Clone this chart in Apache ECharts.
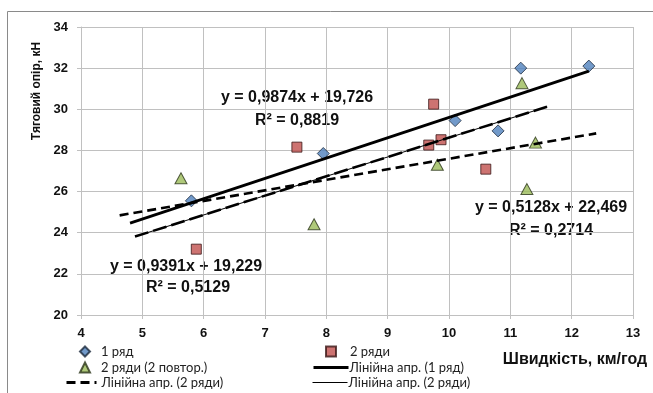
<!DOCTYPE html>
<html>
<head>
<meta charset="utf-8">
<script src="https://cdn.jsdelivr.net/npm/echarts@6/dist/echarts.min.js"></script>
<style>
  html, body { margin: 0; padding: 0; background: #fff; }
  #chart { width: 653px; height: 393px; }
</style>
</head>
<body>
<div id="chart"></div>
<script>
  // дані
  const xRow1 = [5.8, 7.95, 10.1, 10.8, 11.17, 12.28];
  const yRow1 = [25.55, 27.85, 29.45, 28.95, 32.0, 32.1];
  const xRow2 = [5.88, 7.52, 9.67, 9.75, 9.87, 10.6];
  const yRow2 = [23.2, 28.16, 28.26, 30.25, 28.52, 27.09];
  const xRep = [5.63, 7.8, 9.81, 11.19, 11.27, 11.41];
  const yRep = [26.65, 24.41, 27.3, 31.27, 26.12, 28.38];

  // лінійні апроксимації: нахил, зсув, діапазон x
  const trend1 = { k: 0.9874, b: 19.726, from: 4.8, to: 12.28 };
  const trend2 = { k: 0.9391, b: 19.229, from: 4.88, to: 11.6 };
  const trend3 = { k: 0.5128, b: 22.469, from: 4.63, to: 12.4 };

  const xTicks = [4, 5, 6, 7, 8, 9, 10, 11, 12, 13];
  const yTicks = [20, 22, 24, 26, 28, 30, 32, 34];

  const legendNames = {
    r1: '1 ряд',
    r2: '2 ряди',
    r3: '2 ряди (2 повтор.)',
    t1: 'Лінійна апр. (1 ряд)',
    t3: 'Лінійна апр. (2 ряди)',
    t2: 'Лінійна апр. (2 ряди)'
  };

  const zip = (xs, ys) => xs.map((x, i) => [x, ys[i]]);
  const line = (t) => [[t.from, t.k * t.from + t.b], [t.to, t.k * t.to + t.b]];

  const myChart = echarts.init(document.getElementById('chart'));
  const legFont = 'Lato, "Open Sans", sans-serif';
  const boldFont = '"Liberation Sans", Arial, sans-serif';
  const gridColor = '#c0c0c0';

  // одна легенда на кожен рядок, щоб точно розставити
  function legendItem(name, left, top, w, h, lineW, textPad) {
    const item = {
      left: left, top: top, padding: 0,
      itemWidth: w, itemHeight: h,
      data: [name],
      formatter: (n) => legendNames[n],
      textStyle: { fontFamily: legFont, fontSize: 13, color: '#222', padding: [0, 0, 0, textPad] }
    };
    if (lineW) {
      item.itemStyle = { opacity: 0 };
      item.lineStyle = { width: lineW };
    }
    return item;
  }

  function eqText(x, y, text) {
    return {
      type: 'text', x: x, y: y,
      style: { text: text, font: 'bold 16px ' + boldFont, fill: '#111', align: 'center', verticalAlign: 'middle' }
    };
  }

  myChart.setOption({
    animation: false,
    grid: { left: 81, right: 20, top: 27, bottom: 78 },
    legend: [
      legendItem('r1', 79, 345, 10, 10, 0, 6),
      legendItem('r3', 79, 361, 10, 10, 0, 6),
      legendItem('t3', 65, 376, 30, 11, 3, 0),
      legendItem('r2', 325, 345, 10, 10, 0, 9),
      legendItem('t1', 312, 361, 35, 11, 3, -4),
      legendItem('t2', 312, 376, 35, 11, 1, -4)
    ],
    xAxis: {
      type: 'value', min: 4, max: 13, interval: 1,
      axisLine: { lineStyle: { color: gridColor } },
      axisTick: { show: true, length: 4, lineStyle: { color: gridColor } },
      axisLabel: {
        margin: 12, color: '#111', fontWeight: 'bold', fontSize: 13, fontFamily: boldFont,
        formatter: (v) => xTicks.includes(v) ? String(v) : ''
      },
      splitLine: { show: true, lineStyle: { color: gridColor, width: 1 } }
    },
    yAxis: {
      type: 'value', min: 20, max: 34, interval: 2,
      axisLine: { show: true, lineStyle: { color: gridColor } },
      axisTick: { show: true, length: 4, lineStyle: { color: gridColor } },
      axisLabel: {
        margin: 13, color: '#111', fontWeight: 'bold', fontSize: 13, fontFamily: boldFont,
        formatter: (v) => yTicks.includes(v) ? String(v) : ''
      },
      splitLine: { show: true, lineStyle: { color: gridColor, width: 1 } }
    },
    series: [
      {
        name: 'r1', type: 'scatter', symbol: 'diamond', symbolSize: 12, z: 3,
        itemStyle: { color: '#4f81bd', borderColor: '#1d2b3d', borderWidth: 1 },
        data: zip(xRow1, yRow1)
      },
      {
        name: 'r2', type: 'scatter', symbol: 'rect', symbolSize: 10, z: 3,
        itemStyle: { color: '#c0504d', borderColor: '#3a1716', borderWidth: 1 },
        data: zip(xRow2, yRow2)
      },
      {
        name: 'r3', type: 'scatter', symbol: 'triangle', symbolSize: [12, 11], z: 3,
        itemStyle: { color: '#9bbb59', borderColor: '#2b3519', borderWidth: 1 },
        data: zip(xRep, yRep)
      },
      {
        name: 't1', type: 'line', symbol: 'none', z: 4,
        itemStyle: { color: '#000' },
        lineStyle: { color: '#000', width: 2.8 },
        data: line(trend1)
      },
      {
        name: 't2', type: 'line', symbol: 'none', z: 4,
        itemStyle: { color: '#000' },
        lineStyle: { color: '#000', width: 1 },
        data: line(trend2)
      },
      {
        name: 't2dash', type: 'line', symbol: 'none', z: 4,
        itemStyle: { color: '#000' },
        lineStyle: { color: '#000', width: 2.6, type: [14, 5] },
        data: line(trend2)
      },
      {
        name: 't3', type: 'line', symbol: 'none', z: 4,
        itemStyle: { color: '#000' },
        lineStyle: { color: '#000', width: 2.6, type: [9, 5] },
        data: line(trend3)
      }
    ],
    graphic: [
      {
        type: 'rect', z: -10, silent: true,
        shape: { x: 7.5, y: 11.5, width: 700, height: 400 },
        style: { fill: 'none', stroke: '#8a8a8a', lineWidth: 1 }
      },
      {
        type: 'text', x: 37, y: 91, rotation: Math.PI / 2,
        style: { text: 'Тяговий опір, кН', font: 'bold 12px ' + boldFont, fill: '#111', align: 'center', verticalAlign: 'middle' }
      },
      {
        type: 'text', x: 575, y: 360,
        style: { text: 'Швидкість, км/год', font: 'bold 16px ' + boldFont, fill: '#111', align: 'center', verticalAlign: 'middle' }
      },
      eqText(297, 98, 'y = 0,9874x + 19,726'),
      eqText(297, 121, 'R² = 0,8819'),
      eqText(186, 267, 'y = 0,9391x + 19,229'),
      eqText(188, 288, 'R² = 0,5129'),
      eqText(551, 208, 'y = 0,5128x + 22,469'),
      eqText(551, 231, 'R² = 0,2714')
    ]
  });

  window.addEventListener('resize', () => {
    myChart && myChart.resize();
  });
</script>
</body>
</html>
